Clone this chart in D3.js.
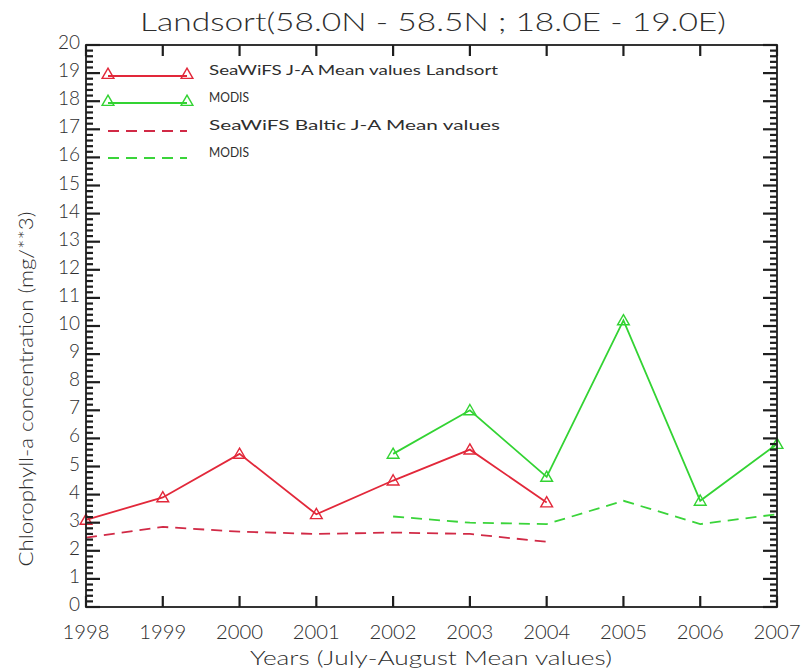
<!DOCTYPE html>
<html><head><meta charset="utf-8">
<script src="https://cdn.jsdelivr.net/npm/d3@7"></script>
<style>body{margin:0;background:#fff}svg text{font-family:Lato,"DejaVu Sans",sans-serif;font-weight:300;fill:#2e2e2e}</style>
</head><body>
<svg id="chart" width="806" height="669" xmlns="http://www.w3.org/2000/svg"></svg>
<script>
// July-August mean chlorophyll-a, Landsort box and Baltic reference
const yearTicks = [1998, 1999, 2000, 2001, 2002, 2003, 2004, 2005, 2006, 2007];
const seawifsYears = [1998, 1999, 2000, 2001, 2002, 2003, 2004];
const modisYears = [2002, 2003, 2004, 2005, 2006, 2007];
const seawifsLandsort = [3.1, 3.9, 5.45, 3.3, 4.5, 5.6, 3.72];
const modisLandsort = [5.45, 7.0, 4.63, 10.2, 3.78, 5.8];
const seawifsBaltic = [2.47, 2.85, 2.68, 2.6, 2.65, 2.6, 2.32];
const modisBaltic = [3.22, 3.0, 2.95, 3.78, 2.95, 3.3];
const yTickValues = d3.range(0, 21);
const legendLabels = ["SeaWiFS J-A Mean values Landsort", "MODIS", "SeaWiFS Baltic J-A Mean values", "MODIS"];

const titleText = "Landsort(58.0N - 58.5N ; 18.0E - 19.0E)";
const xTitle = "Years (July-August Mean values)";
const yTitle = "Chlorophyll-a concentration (mg/**3)";

const RED = "#e2283a", GREEN = "#33d333", RED_D = "#d12a46", GREEN_D = "#3ad43a";
const FRAME = "#1e1e1e";

const svg = d3.select("#chart");
const x = d3.scaleLinear().domain([1998, 2007]).range([86, 777]);
const y = d3.scaleLinear().domain([0, 20]).range([607, 45]);
const X0 = x.range()[0], X1 = x.range()[1], Y0 = y.range()[0], Y1 = y.range()[1];

// tick labels
svg.append("g").selectAll("text").data(yearTicks).enter().append("text")
  .attr("x", d => x(d)).attr("y", 639).attr("text-anchor", "middle")
  .attr("font-size", 19).attr("textLength", 47).attr("lengthAdjust", "spacingAndGlyphs").text(d => d);
svg.append("g").selectAll("text").data(yTickValues).enter().append("text")
  .attr("x", X0 - 6).attr("y", d => y(d) + 4).attr("text-anchor", "end")
  .attr("font-size", 19).text(d => d);

// titles
svg.append("text").attr("x", 433).attr("y", 31).attr("text-anchor", "middle")
  .attr("font-size", 25).attr("textLength", 586).attr("lengthAdjust", "spacingAndGlyphs").text(titleText);
svg.append("text").attr("x", 431).attr("y", 665).attr("text-anchor", "middle")
  .attr("font-size", 19).attr("textLength", 362).attr("lengthAdjust", "spacingAndGlyphs").text(xTitle);
svg.append("text").attr("transform", "translate(33,389) rotate(-90)").attr("text-anchor", "middle")
  .attr("font-size", 19).attr("textLength", 355).attr("lengthAdjust", "spacingAndGlyphs").text(yTitle);

// series
const line = d3.line().x(d => x(d[0])).y(d => y(d[1]));
const zip = (xs, vs) => xs.map((v, i) => [v, vs[i]]);
const series = [
  {data: zip(seawifsYears, seawifsLandsort), color: RED, dash: null, marker: true},
  {data: zip(modisYears, modisLandsort), color: GREEN, dash: null, marker: true},
  {data: zip(seawifsYears, seawifsBaltic), color: RED_D, dash: "11,7", marker: false},
  {data: zip(modisYears, modisBaltic), color: GREEN_D, dash: "11,7", marker: false}
];
const tri = d3.symbol().type(d3.symbolTriangle).size(60);

series.forEach(s => {
  svg.append("path").attr("d", line(s.data)).attr("fill", "none")
    .attr("stroke", s.color).attr("stroke-width", 1.8)
    .attr("stroke-dasharray", s.dash);
  if (s.marker) {
    svg.selectAll(null).data(s.data).enter().append("path")
      .attr("d", tri).attr("transform", d => `translate(${x(d[0])},${y(d[1]) + 1})`)
      .attr("fill", "none").attr("stroke", s.color).attr("stroke-width", 1.4);
  }
});

// legend
const legY = [76, 103, 131, 158];
const legWidths = [289, 40, 291, 40];
series.forEach((s, i) => {
  const g = svg.append("g");
  g.append("line").attr("x1", 108).attr("x2", 187).attr("y1", legY[i]).attr("y2", legY[i])
    .attr("stroke", s.color).attr("stroke-width", 1.8).attr("stroke-dasharray", s.dash);
  if (s.marker) {
    [108, 187].forEach(px => g.append("path").attr("d", tri)
      .attr("transform", `translate(${px},${legY[i] - 1})`)
      .attr("fill", "none").attr("stroke", s.color).attr("stroke-width", 1.4));
  }
  g.append("text").attr("x", 209).attr("y", legY[i] - 1).attr("font-size", 14)
    .style("font-weight", 400)
    .attr("textLength", legWidths[i]).attr("lengthAdjust", "spacingAndGlyphs")
    .text(legendLabels[i]);
});

// plot frame
svg.append("rect").attr("x", X0).attr("y", Y1)
  .attr("width", X1 - X0).attr("height", Y0 - Y1)
  .style("fill", "none").style("stroke", FRAME).style("stroke-width", "1.8px");

// tick marks, pointing inward on all four sides
const minorY = d3.range(0, 101).map(i => i / 5).filter(v => Math.abs(v - Math.round(v)) > 1e-6);
const ticks = svg.append("g").style("stroke", FRAME).style("stroke-width", "2.2px");
ticks.selectAll(".yl").data(minorY.concat(yTickValues)).enter().append("line")
  .attr("x1", X0).attr("x2", d => X0 + (d % 1 === 0 ? 14 : 7))
  .attr("y1", d => y(d)).attr("y2", d => y(d));
ticks.selectAll(".yr").data(minorY.concat(yTickValues)).enter().append("line")
  .attr("x1", X1).attr("x2", d => X1 - (d % 1 === 0 ? 14 : 7))
  .attr("y1", d => y(d)).attr("y2", d => y(d));
ticks.selectAll(".xb").data(yearTicks).enter().append("line")
  .attr("x1", d => x(d)).attr("x2", d => x(d)).attr("y1", Y0).attr("y2", Y0 - 11);
ticks.selectAll(".xt").data(yearTicks).enter().append("line")
  .attr("x1", d => x(d)).attr("x2", d => x(d)).attr("y1", Y1).attr("y2", Y1 + 11);
</script>
</body></html>
